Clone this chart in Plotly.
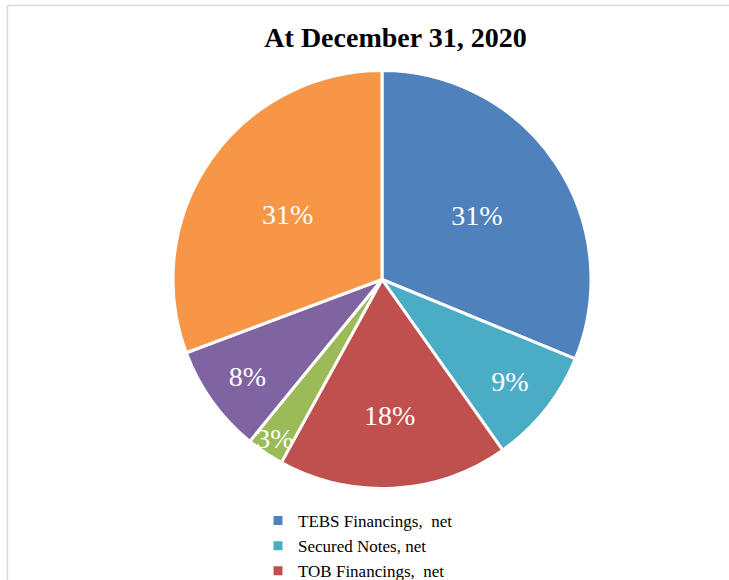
import plotly.graph_objects as go

labels = ["TEBS Financings,  net", "Secured Notes, net", "TOB Financings,  net",
          "Term TOB Trust Financings, net", "Term A/B Trust Financings, net",
          "Mortgages Payable and Other Secured Financings, net"]
values = [31.2, 9.0, 17.8, 2.9, 8.4, 30.7]
colors = ["#4F81BD", "#4BACC6", "#C0504D", "#9BBB59", "#8064A2", "#F79646"]
title_text = "At December 31, 2020"

W, H = 729, 580
cx, cy, r = 382, 279.5, 209

fig = go.Figure(go.Pie(
    labels=labels, values=values, sort=False, direction="clockwise", rotation=0,
    marker=dict(colors=colors, line=dict(color="white", width=3)),
    texttemplate="%{percent:.0%}", textposition="inside",
    insidetextorientation="horizontal",
    textfont=dict(family="Liberation Serif", size=28, color="white"),
    domain=dict(x=[(cx - r) / W, (cx + r) / W], y=[(H - cy - r) / H, (H - cy + r) / H]),
    hoverinfo="label+percent",
))

fig.update_layout(
    width=W, height=H,
    margin=dict(l=0, r=0, t=0, b=0, autoexpand=False),
    paper_bgcolor="white", plot_bgcolor="white",
    title=dict(text="<b>" + title_text + "</b>", x=395.5 / W, xanchor="center",
               y=1 - 37.5 / H, yanchor="middle",
               font=dict(family="Liberation Serif", size=28, color="black")),
    uniformtext=dict(minsize=28, mode="show"),
    legend=dict(x=258 / W, xanchor="left", y=1 - 503 / H, yanchor="top",
                font=dict(family="Liberation Serif", size=17, color="black"),
                bgcolor="rgba(0,0,0,0)", traceorder="normal"),
    shapes=[
        dict(type="line", xref="paper", yref="paper",
             x0=7.5 / W, x1=1, y0=1 - 5.5 / H, y1=1 - 5.5 / H,
             line=dict(color="#D9D9D9", width=1.5), layer="below"),
        dict(type="line", xref="paper", yref="paper",
             x0=7.5 / W, x1=7.5 / W, y0=0, y1=1 - 5.5 / H,
             line=dict(color="#D9D9D9", width=1.5), layer="below"),
    ],
)

fig.write_html(
    "out.html",
    config={"displayModeBar": False},
    post_script="document.documentElement.style.overflow='hidden';"
                "document.body.style.overflow='hidden';document.body.style.margin='0';",
)
